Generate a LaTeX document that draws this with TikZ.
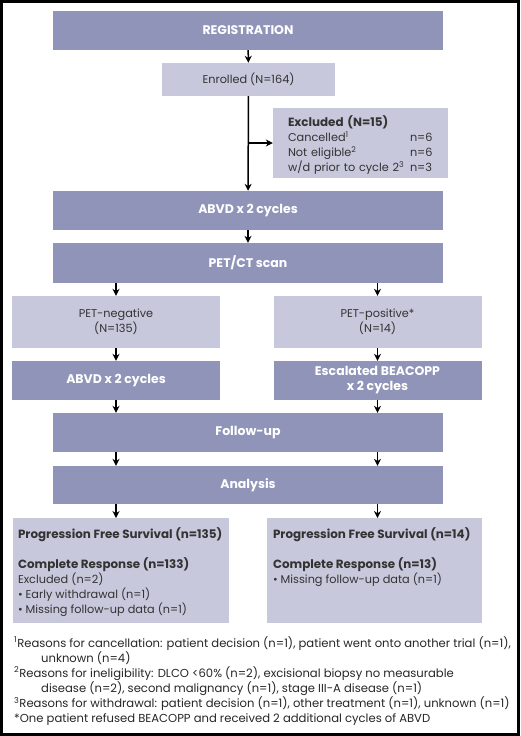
\documentclass[tikz,border=0pt]{standalone}
\usepackage{fontspec}
\setmainfont{Poppins}
\usetikzlibrary{arrows.meta,positioning}

\definecolor{boxdark}{HTML}{8F94B8}
\definecolor{boxlight}{HTML}{C7C8DC}
\definecolor{inktext}{HTML}{333333}

\newcommand{\boxhead}[1]{{\bfseries\fontsize{11.9}{15}\selectfont #1}}
\newcommand{\exclrow}[2]{\makebox[122pt][l]{#1}#2}

\begin{document}
\begin{tikzpicture}[x = 1pt, y = -1pt,
                    darkbox/.style  = {fill=boxdark, text=white, inner sep=0pt, align=center,
                                       font=\bfseries\fontsize{12.5}{15}\selectfont},
                    lightbox/.style = {fill=boxlight, text=inktext, inner sep=0pt, align=center,
                                       font=\fontsize{11.3}{15}\selectfont},
                    wide/.style     = {minimum width=390pt, minimum height=39pt},
                    half/.style     = {minimum width=208pt},
                    flow/.style     = {line width=1.5pt, -{Stealth[length=7pt,width=7pt]}}]

\useasboundingbox (0,0) rectangle (520,736);
\draw[line width=3pt] (1.5,1.5) rectangle (518.5,734.5);

% main column
\node[darkbox, wide] (reg) at (248,30.5) {REGISTRATION};
\node[lightbox, minimum width=173pt, minimum height=33pt] (enrolled) at (248.5,79.5) {Enrolled (N=164)};
\node[lightbox, align=left, text width=145pt, inner xsep=15pt, minimum height=70pt] (excluded) at (360.5,143)
  {\rule{0pt}{15pt}\boxhead{Excluded (N=15)}\\
   \exclrow{Cancelled\textsuperscript{1}}{n=6}\\
   \exclrow{Not eligible\textsuperscript{2}}{n=6}\\
   \exclrow{w/d prior to cycle 2\textsuperscript{3}}{n=3}};
\node[darkbox, wide] (abvd) at (248,210.5) {ABVD x 2 cycles};
\node[darkbox, wide, minimum height=40pt] (petct) at (248,263) {PET/CT scan};

% two arms
\node[lightbox, half, minimum height=52pt] (petneg) at (116,322) {PET-negative\\(N=135)};
\node[lightbox, half, minimum height=52pt] (petpos) at (377.5,322) {PET-positive*\\(N=14)};
\node[darkbox, half, minimum height=39pt] (abvdneg) at (116,380.5) {ABVD x 2 cycles};
\node[darkbox, half, minimum height=39pt] (beacopp) at (377.5,380.5) {Escalated BEACOPP\\x 2 cycles};

\node[darkbox, wide] (followup) at (248,432.5) {Follow-up};
\node[darkbox, wide, minimum height=38pt] (analysis) at (248,485) {Analysis};

% outcome boxes
\node[lightbox, anchor=north, minimum width=216pt, minimum height=105pt] (pfsneg) at (121,518)
  {\parbox[t][87pt][t]{206pt}{\raggedright
   \boxhead{Progression Free Survival (n=135)}\\[15pt]
   \boxhead{Complete Response (n=133)}\\
   Excluded (n=2)\\
   • Early withdrawal (n=1)\\
   • Missing follow-up data (n=1)}};
\node[lightbox, anchor=north, minimum width=215pt, minimum height=105pt] (pfspos) at (374.5,518)
  {\parbox[t][87pt][t]{203pt}{\raggedright
   \boxhead{Progression Free Survival (n=14)}\\[15pt]
   \boxhead{Complete Response (n=13)}\\
   • Missing follow-up data (n=1)}};

% footnotes
\node[anchor=north west, inner sep=0pt, align=left, text=black!85,
      font=\fontsize{11.6}{15.1}\selectfont] (notes) at (14,636)
  {\textsuperscript{1}Reasons for cancellation: patient decision (n=1), patient went onto another trial (n=1),\\
   \hspace*{27pt}unknown (n=4)\\
   \textsuperscript{2}Reasons for ineligibility: DLCO <60\% (n=2), excisional biopsy no measurable\\
   \hspace*{27pt}disease (n=2), second malignancy (n=1), stage III-A disease (n=1)\\
   \textsuperscript{3}Reasons for withdrawal: patient decision (n=1), other treatment (n=1), unknown (n=1)\\
   *One patient refused BEACOPP and received 2 additional cycles of ABVD};

% connectors
\draw[flow] (reg) -- (enrolled);
\draw[flow] (enrolled) -- (abvd);
\draw[flow] (enrolled.south |- excluded.west) -- (excluded.west);
\draw[flow] (abvd) -- (petct);
\draw[flow] (petct.south -| petneg) -- (petneg);
\draw[flow] (petct.south -| petpos) -- (petpos);
\draw[flow] (petneg) -- (abvdneg);
\draw[flow] (petpos) -- (beacopp);
\draw[flow] (abvdneg) -- (followup.north -| abvdneg);
\draw[flow] (beacopp) -- (followup.north -| beacopp);
\draw[flow] (followup.south -| abvdneg) -- (analysis.north -| abvdneg);
\draw[flow] (followup.south -| beacopp) -- (analysis.north -| beacopp);
\draw[flow] (analysis.south -| abvdneg) -- (pfsneg.north -| abvdneg);
\draw[flow] (analysis.south -| beacopp) -- (pfspos.north -| beacopp);

\end{tikzpicture}
\end{document}
